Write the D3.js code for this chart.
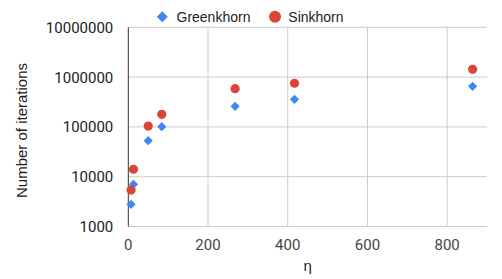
<!DOCTYPE html>
<html><head><meta charset="utf-8">
<script src="https://cdn.jsdelivr.net/npm/d3@7"></script>
<style>html,body{margin:0;padding:0;background:#fff;}</style>
</head><body>
<svg id="chart" width="502" height="279"></svg>
<script>
const eta = [7, 13, 50, 84, 268, 417, 864];
const greenkhorn = [2790, 7030, 52900, 101000, 259000, 358000, 653000];
const sinkhorn = [5400, 14100, 104000, 179000, 585000, 752000, 1435000];
const xTicks = [0, 200, 400, 600, 800];
const yTicks = [1000, 10000, 100000, 1000000, 10000000];
const seriesNames = ["Greenkhorn", "Sinkhorn"];
const colors = ["#4285F4", "#DB4437"];

const W = 502, H = 279;
const m = {left: 128.3, right: 15, top: 27.3, bottom: 52.5};
const svg = d3.select("#chart");
const x = d3.scaleLinear().domain([0, 900]).range([m.left, W - m.right]);
const y = d3.scaleLog().domain([1000, 10000000]).range([H - m.bottom, m.top]);

// horizontal gridlines
svg.append("g").selectAll("line").data(yTicks).join("line")
  .attr("x1", m.left).attr("x2", W - m.right)
  .attr("y1", d => y(d)).attr("y2", d => y(d))
  .attr("stroke", "#cccccc").attr("stroke-width", 1);
// vertical gridlines
svg.append("g").selectAll("line").data(xTicks.filter(d => d > 0)).join("line")
  .attr("x1", d => x(d)).attr("x2", d => x(d))
  .attr("y1", m.top).attr("y2", H - m.bottom)
  .attr("stroke", "#cccccc").attr("stroke-width", 1);
// y axis baseline at x=0
svg.append("line").attr("x1", x(0)).attr("x2", x(0))
  .attr("y1", m.top).attr("y2", H - m.bottom)
  .attr("stroke", "#333333").attr("stroke-width", 1);

// y tick labels
svg.append("g").selectAll("text").data(yTicks).join("text")
  .attr("x", m.left - 15).attr("y", d => y(d)).attr("dy", "0.36em")
  .attr("text-anchor", "end").attr("font-family", "Roboto, Arial, sans-serif")
  .attr("font-size", 15).attr("fill", "#222222").text(d => d3.format("d")(d));
// x tick labels
svg.append("g").selectAll("text").data(xTicks).join("text")
  .attr("x", d => x(d)).attr("y", 250)
  .attr("text-anchor", "middle").attr("font-family", "Roboto, Arial, sans-serif")
  .attr("font-size", 15).attr("fill", "#444444").text(d => d);

// axis titles
svg.append("text").attr("x", (m.left + W - m.right) / 2).attr("y", 271)
  .attr("text-anchor", "middle").attr("font-family", "Arial, 'Liberation Sans', sans-serif")
  .attr("font-size", 15).attr("fill", "#222222").text("η");
svg.append("text").attr("transform", "translate(27,130.5) rotate(-90)")
  .attr("text-anchor", "middle").attr("font-family", "Arial, 'Liberation Sans', sans-serif")
  .attr("font-size", 15).attr("fill", "#222222").text("Number of iterations");

// data
const diamond = (cx, cy, r) => `M${cx},${cy - r}L${cx + r},${cy}L${cx},${cy + r}L${cx - r},${cy}Z`;
svg.append("g").selectAll("path").data(eta.map((e, i) => [e, greenkhorn[i]])).join("path")
  .attr("d", d => diamond(x(d[0]), y(d[1]), 4.6)).attr("fill", colors[0]);
svg.append("g").selectAll("circle").data(eta.map((e, i) => [e, sinkhorn[i]])).join("circle")
  .attr("cx", d => x(d[0])).attr("cy", d => y(d[1])).attr("r", 4.6).attr("fill", colors[1]);

// legend
const lg = svg.append("g");
lg.append("path").attr("d", diamond(162.3, 16.7, 5.5)).attr("fill", colors[0]);
lg.append("text").attr("x", 176.5).attr("y", 16.7).attr("dy", "0.36em")
  .attr("font-family", "Arial, 'Liberation Sans', sans-serif").attr("font-size", 14)
  .attr("fill", "#222222").text(seriesNames[0]);
lg.append("circle").attr("cx", 275).attr("cy", 16.7).attr("r", 6).attr("fill", colors[1]);
lg.append("text").attr("x", 288.3).attr("y", 16.7).attr("dy", "0.36em")
  .attr("font-family", "Arial, 'Liberation Sans', sans-serif").attr("font-size", 14)
  .attr("fill", "#222222").text(seriesNames[1]);
</script>
</body></html>
